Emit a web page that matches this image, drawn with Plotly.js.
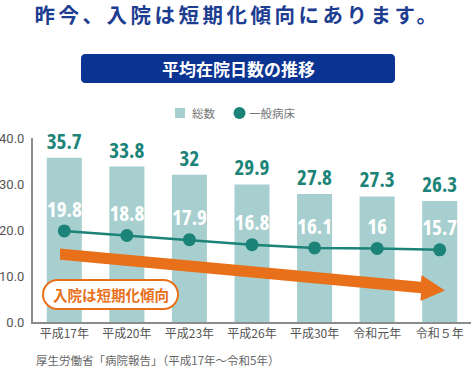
<!DOCTYPE html>
<html><head><meta charset="utf-8">
<script src="https://cdn.plot.ly/plotly-3.0.1.min.js"></script>
<style>html,body{margin:0;padding:0;background:#fff}#chart{width:475px;height:370px}
.gtitle{letter-spacing:3.5px}
.textpoint text, .bartext{font-stretch:75%}</style>
</head><body><div id="chart"></div>
<script>
const categories = ['平成17年','平成20年','平成23年','平成26年','平成30年','令和元年','令和５年'];
const totalDays = [35.7, 33.8, 32, 29.9, 27.8, 27.3, 26.3];
const generalBedDays = [19.8, 18.8, 17.9, 16.8, 16.1, 16, 15.7];
const yTickVals = [0, 10, 20, 30, 40];
const yTickText = ['0.0', '10.0', '20.0', '30.0', '40.0'];
const seriesNames = ['総数', '一般病床'];
const titleText = '昨今、入院は短期化傾向にあります。';
const boxTitle = '平均在院日数の推移';
const trendLabel = '入院は短期化傾向';
const sourceText = '厚生労働省「病院報告」（平成17年～令和5年）';

const JP = '"Noto Sans CJK JP", "Noto Sans", sans-serif';
const NUM = '"Open Sans", Roboto, sans-serif';
const TEAL = '#1b8377', BARC = '#a7cfcf', ORANGE = '#e8701a', NAVY = '#0b3391';

// plot area in pixels
const L = 33, R = 471, T = 138, B = 322;
const px = x => (x - L) / (R - L);
const py = y => (B - y) / (B - T);
function rrect(x0, y0, x1, y1, r) {
  const k = 0.45;
  return `M ${px(x0+r)},${py(y0)} L ${px(x1-r)},${py(y0)} C ${px(x1-r*k)},${py(y0)} ${px(x1)},${py(y0+r*k)} ${px(x1)},${py(y0+r)} ` +
    `L ${px(x1)},${py(y1-r)} C ${px(x1)},${py(y1-r*k)} ${px(x1-r*k)},${py(y1)} ${px(x1-r)},${py(y1)} ` +
    `L ${px(x0+r)},${py(y1)} C ${px(x0+r*k)},${py(y1)} ${px(x0)},${py(y1-r*k)} ${px(x0)},${py(y1-r)} ` +
    `L ${px(x0)},${py(y0+r)} C ${px(x0)},${py(y0+r*k)} ${px(x0+r*k)},${py(y0)} ${px(x0+r)},${py(y0)} Z`;
}
function poly(pts) { return 'M ' + pts.map(p => `${px(p[0])},${py(p[1])}`).join(' L ') + ' Z'; }

const traces = [
  {
    type: 'bar', x: categories, y: totalDays, name: seriesNames[0], showlegend: false,
    marker: {color: BARC}, text: totalDays.map(String), textposition: 'outside', constraintext: 'none',
    textfont: {family: NUM, size: 21, color: TEAL, weight: 'bold'}, cliponaxis: false,
    hoverinfo: 'skip'
  },
  {
    type: 'scatter', mode: 'lines+markers+text', x: categories, y: generalBedDays,
    name: seriesNames[1], showlegend: false,
    line: {color: TEAL, width: 2.5}, marker: {color: TEAL, size: 13},
    text: generalBedDays.map(String), textposition: 'top center',
    textfont: {family: NUM, size: 21, color: '#ffffff', weight: 'bold'}, cliponaxis: false,
    hoverinfo: 'skip'
  }
];

const layout = {
  width: 475, height: 370,
  margin: {l: L, r: 475 - R, t: T, b: 370 - B},
  paper_bgcolor: '#fff', plot_bgcolor: '#fff',
  font: {family: JP, color: '#555'},
  title: {text: titleText, x: 0.5, xanchor: 'center', xref: 'container', yref: 'container', y: 1 - 16/370, yanchor: 'middle',
    font: {family: JP, size: 20.5, color: '#1d3d91', weight: 'bold'}},
  bargap: 0.44,
  showlegend: false,
  xaxis: {showline: true, linecolor: '#8c8c8c', linewidth: 2, ticks: '', showgrid: false,
    tickfont: {family: JP, size: 12, color: '#555'}, fixedrange: true},
  yaxis: {range: [0, 40], tickvals: yTickVals, ticktext: yTickText, showline: true, linecolor: '#8c8c8c', linewidth: 2,
    ticks: '', showgrid: false, zeroline: false, tickfont: {family: 'Roboto, sans-serif', size: 13, color: '#555'},
    ticklabelstandoff: 4, fixedrange: true},
  shapes: [
    {type: 'path', xref: 'paper', yref: 'paper', path: rrect(81, 54, 395, 83, 4), fillcolor: NAVY, line: {width: 0}, layer: 'above'},
    {type: 'rect', xref: 'paper', yref: 'paper', x0: px(175), x1: px(185), y0: py(108), y1: py(118), fillcolor: BARC, line: {width: 0}},
    {type: 'circle', xref: 'paper', yref: 'paper', x0: px(233.5), x1: px(245.5), y0: py(107), y1: py(119), fillcolor: TEAL, line: {width: 0}},
    {type: 'path', xref: 'paper', yref: 'paper', layer: 'above', fillcolor: ORANGE, line: {width: 0},
      path: poly([[60, 248.5], [421, 281.8], [421.5, 275], [445, 290.5], [420.5, 301], [421, 293.2], [60, 259.8]])},
    {type: 'path', xref: 'paper', yref: 'paper', path: rrect(43, 280, 178, 309, 14.5), fillcolor: '#fff', line: {color: ORANGE, width: 2}, layer: 'above'}
  ],
  annotations: [
    {xref: 'paper', yref: 'paper', x: px(238), y: py(68.5), text: boxTitle, showarrow: false, xanchor: 'center', yanchor: 'middle',
      font: {family: JP, size: 17, color: '#fff', weight: 'bold'}},
    {xref: 'paper', yref: 'paper', x: px(190), y: py(113), text: seriesNames[0], showarrow: false, xanchor: 'left', yanchor: 'middle',
      font: {family: JP, size: 11.5, color: '#777'}},
    {xref: 'paper', yref: 'paper', x: px(246.5), y: py(113), text: seriesNames[1], showarrow: false, xanchor: 'left', yanchor: 'middle',
      font: {family: JP, size: 11.5, color: '#777'}},
    {xref: 'paper', yref: 'paper', x: px(110.5), y: py(294.5), text: trendLabel, showarrow: false, xanchor: 'center', yanchor: 'middle',
      font: {family: JP, size: 14.5, color: ORANGE, weight: 'bold'}},
    {xref: 'paper', yref: 'paper', x: px(34), y: py(360), text: sourceText, showarrow: false, xanchor: 'left', yanchor: 'middle',
      font: {family: JP, size: 11.5, color: '#666'}}
  ]
};

Plotly.newPlot('chart', traces, layout, {staticPlot: true, displayModeBar: false});
</script></body></html>
